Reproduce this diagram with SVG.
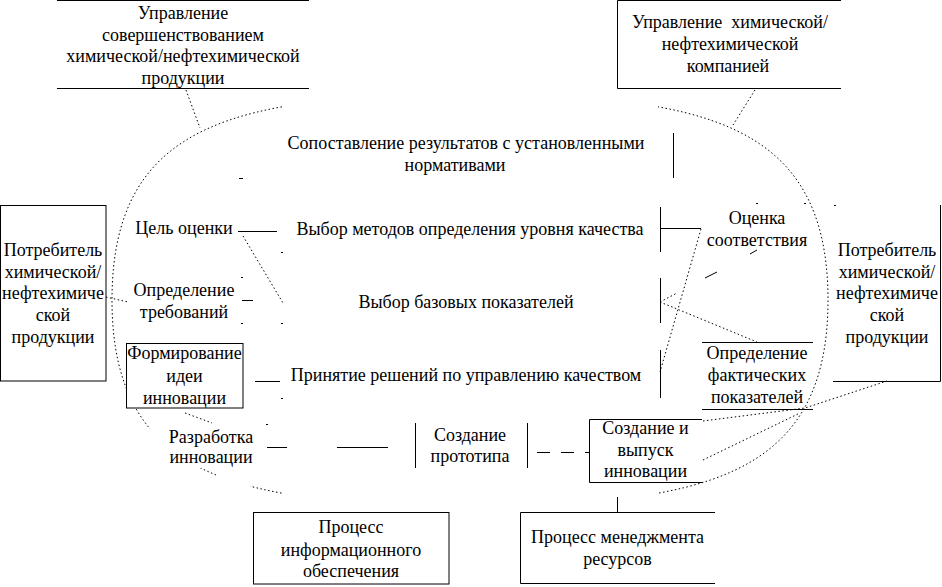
<svg xmlns="http://www.w3.org/2000/svg" width="942" height="587" viewBox="0 0 942 587">
<style>
.t{font-family:"Liberation Serif","Times New Roman",serif;font-size:18px;fill:#000;text-anchor:middle}
.ln{stroke:#000;stroke-width:1;fill:none}
.box{stroke:#000;stroke-width:1;fill:#fff}
.dot{stroke:#000;stroke-width:1;fill:none;stroke-dasharray:1.5 2.5}
.dash{stroke:#000;stroke-width:1;fill:none;stroke-dasharray:13 11}
.mask{fill:#fff;stroke:none}
.mk{stroke:#000;stroke-width:1.2;fill:none}
</style>
<rect x="0" y="0" width="942" height="587" fill="#fff"/>
<g id="cycle">
<path class="dot" d="M470,95 C700,95 828,120 828,300 C828,480 700,505 470,505 C240,505 112,480 112,300 C112,120 240,95 470,95 Z"/>
<rect class="mask" x="282" y="80" width="376" height="35"/>
<rect class="mask" x="282" y="485" width="376" height="26"/>
<rect class="mask" x="150" y="428" width="52" height="40"/>
<rect class="mask" x="218" y="472" width="32" height="18"/>
</g>
<g id="connectors">
<path class="ln" d="M238,231.5 H277 M242,300.5 H253 M255,381.5 H280 M267,447.5 H287 M337,447.5 H388"/>
<path class="ln" d="M415.5,423 V468 M527.5,423 V468 M617.5,497 V512"/>
<path class="ln" d="M673.5,133 V178 M660.5,207 V252 M660.5,278 V323 M660.5,350 V398 M660,228.5 H701"/>
<path class="dash" d="M537,452.5 H589"/>
<path class="dot" d="M186,90 L200,128 M755,90 L733,125 M243,236 L283,303 M701,229 L660,372 M660,302 L757,342 M660,302 L677,293 M106,297 L128,302 M185,413 L212,423 M703,421 L805,408 L887,381 M703,460 L800,413"/>
<path class="ln" d="M705,278 L717,272 M750,254 L757,250"/>
<path class="mk" d="M239,178.5 h4 M281,252.5 h2 M241,277.5 h2 M281,323.5 h2 M241,323.5 h2 M281,398.5 h2 M266,424.5 h2 M756,203.5 h2 M804,203.5 h2 M834,205.5 h2"/>
</g>
<g id="n-top-left">
<path class="ln" d="M57,0.5 H309 M57,88.5 H309"/>
<text class="t" x="183" y="19">Управление</text>
<text class="t" x="183" y="40.5">совершенствованием</text>
<text class="t" x="183" y="62">химической/нефтехимической</text>
<text class="t" x="183" y="83.5">продукции</text>
</g>
<g id="n-top-right">
<path class="ln" d="M841,0.5 H617.5 V88.5 H841"/>
<text class="t" x="730" y="28" xml:space="preserve">Управление  химической/</text>
<text class="t" x="730" y="50">нефтехимической</text>
<text class="t" x="728" y="72">компанией</text>
</g>
<g id="n-consumer-left">
<rect class="box" x="0.5" y="205.5" width="105.5" height="175.5"/>
<text class="t" x="53" y="256">Потребитель</text>
<text class="t" x="53" y="277.5">химической/</text>
<text class="t" x="53" y="299">нефтехимиче</text>
<text class="t" x="53" y="321">ской</text>
<text class="t" x="53" y="343">продукции</text>
</g>
<g id="n-consumer-right">
<path class="ln" d="M833,381.5 H940.5 V205"/>
<text class="t" x="887" y="256">Потребитель</text>
<text class="t" x="887" y="277.5">химической/</text>
<text class="t" x="887" y="299">нефтехимиче</text>
<text class="t" x="887" y="321">ской</text>
<text class="t" x="887" y="343">продукции</text>
</g>
<g id="n-compare">
<text class="t" x="466" y="149">Сопоставление результатов с установленными</text>
<text class="t" x="455" y="171">нормативами</text>
</g>
<g id="n-goal">
<text class="t" x="184" y="234">Цель оценки</text>
</g>
<g id="n-methods">
<text class="t" x="470" y="235">Выбор методов определения уровня качества</text>
</g>
<g id="n-requirements">
<text class="t" x="184" y="296">Определение</text>
<text class="t" x="184" y="318">требований</text>
</g>
<g id="n-base">
<text class="t" x="466" y="308">Выбор базовых показателей</text>
</g>
<g id="n-idea">
<rect class="box" x="126.5" y="343.5" width="116.5" height="64.5"/>
<text class="t" x="184.5" y="359">Формирование</text>
<text class="t" x="184.5" y="382">идеи</text>
<text class="t" x="184.5" y="404">инновации</text>
</g>
<g id="n-decision">
<text class="t" x="466" y="381">Принятие решений по управлению качеством</text>
</g>
<g id="n-development">
<text class="t" x="211" y="443">Разработка</text>
<text class="t" x="211" y="463">инновации</text>
</g>
<g id="n-prototype">
<text class="t" x="470" y="441">Создание</text>
<text class="t" x="470" y="462">прототипа</text>
</g>
<g id="n-release">
<path class="ln" d="M702,419.5 H589.5 V482.5 H702"/>
<text class="t" x="645.5" y="434">Создание и</text>
<text class="t" x="645.5" y="456">выпуск</text>
<text class="t" x="645.5" y="477">инновации</text>
</g>
<g id="n-conformity">
<text class="t" x="757" y="224">Оценка</text>
<text class="t" x="757" y="246">соответствия</text>
</g>
<g id="n-actual">
<path class="ln" d="M702,342.5 H813 M702,409.5 H813"/>
<text class="t" x="757" y="359">Определение</text>
<text class="t" x="757" y="381">фактических</text>
<text class="t" x="757" y="403">показателей</text>
</g>
<g id="n-info">
<rect class="box" x="253.5" y="512.5" width="195.5" height="71.5"/>
<text class="t" x="351" y="533">Процесс</text>
<text class="t" x="351" y="556">информационного</text>
<text class="t" x="351" y="577">обеспечения</text>
</g>
<g id="n-resources">
<path class="ln" d="M715,512.5 H520.5 V583.5 H715"/>
<text class="t" x="617.5" y="543">Процесс менеджмента</text>
<text class="t" x="617.5" y="565">ресурсов</text>
</g>
</svg>
